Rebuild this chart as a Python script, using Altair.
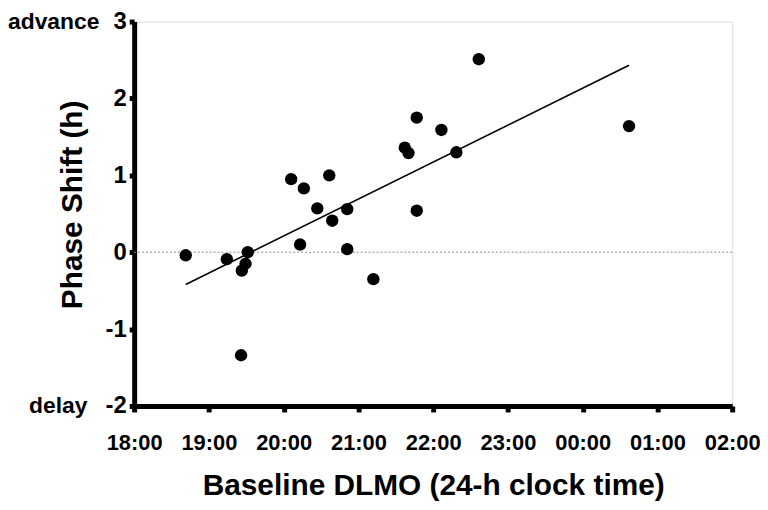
import altair as alt
import pandas as pd

# Baseline DLMO in decimal clock hours (values >24 are past midnight)
dlmo_hours = [18.69, 19.24, 19.44, 19.49, 19.52, 19.43, 20.10, 20.27, 20.22, 20.45,
              20.61, 20.65, 20.85, 20.85, 21.20, 21.78, 21.62, 21.67, 22.11, 22.31,
              22.61, 21.78, 24.62]
phase_shift = [-0.04, -0.09, -0.24, -0.15, 0.00, -1.34, 0.95, 0.83, 0.10, 0.57,
               1.00, 0.41, 0.56, 0.04, -0.35, 1.75, 1.36, 1.29, 1.59, 1.30,
               2.51, 0.54, 1.64]

x_ticks = [18, 19, 20, 21, 22, 23, 24, 25, 26]
y_ticks = [-2, -1, 0, 1, 2, 3]
side_labels = ["advance", "delay"]
side_values = [3, -2]

df = pd.DataFrame({"dlmo": dlmo_hours, "shift": phase_shift})
FONT = "Liberation Sans"

x_scale = alt.Scale(domain=[18, 26], nice=False, zero=False)
y_scale = alt.Scale(domain=[-2, 3], nice=False, zero=False)

x_enc = alt.X(
    "dlmo:Q", scale=x_scale,
    axis=alt.Axis(
        values=x_ticks,
        labelExpr="(datum.value % 24 < 10 ? '0' : '') + (datum.value % 24) + ':00'",
        title="Baseline DLMO (24-h clock time)",
        titleFontSize=30, titleFont=FONT, titleFontWeight="bold", titleColor="black",
        titleY=89, titleBaseline="alphabetic",
        labelFontSize=22, labelFont=FONT, labelFontWeight="bold", labelColor="black",
        labelBaseline="alphabetic", labelPadding=38, labelFlush=False,
        domainColor="black", domainWidth=5, tickColor="black", tickWidth=5, tickSize=6,
        grid=False,
    ),
)
y_enc = alt.Y(
    "shift:Q", scale=y_scale,
    axis=alt.Axis(
        values=y_ticks,
        labelExpr="(datum.value < 0 ? '-' : '') + abs(datum.value)",
        title="Phase Shift (h)",
        titleFontSize=30, titleFont=FONT, titleFontWeight="bold", titleColor="black",
        titleX=-62, titleY=184, titleAngle=-90, titleAlign="center", titleBaseline="middle",
        labelFontSize=24, labelFont=FONT, labelFontWeight="bold", labelColor="black",
        labelPadding=3, labelFlush=False,
        domainColor="black", domainWidth=5, tickColor="black", tickWidth=5, tickSize=5,
        grid=False,
    ),
)

zero = alt.Chart(pd.DataFrame({"z": [0]})).mark_rule(
    color="#888888", strokeWidth=1, strokeDash=[2, 2]
).encode(y=alt.Y("z:Q", scale=y_scale))

points = alt.Chart(df).mark_circle(size=155, color="black", opacity=1).encode(x=x_enc, y=y_enc)

fit = alt.Chart(df).transform_regression("dlmo", "shift").mark_line(
    color="black", strokeWidth=1.6
).encode(x=alt.X("dlmo:Q", scale=x_scale), y=alt.Y("shift:Q", scale=y_scale))

side_df = pd.DataFrame({"label": side_labels, "v": side_values})
adv = alt.Chart(side_df[side_df.label == "advance"]).mark_text(
    align="right", baseline="middle", font=FONT, fontWeight="bold", fontSize=23, color="black"
).encode(x=alt.value(-35), y=alt.Y("v:Q", scale=y_scale), text="label:N")
dly = alt.Chart(side_df[side_df.label == "delay"]).mark_text(
    align="right", baseline="middle", font=FONT, fontWeight="bold", fontSize=23, color="black"
).encode(x=alt.value(-47), y=alt.Y("v:Q", scale=y_scale), text="label:N")

chart = alt.layer(zero, fit, points, adv, dly).properties(
    width=602, height=387,
    autosize=alt.AutoSizeParams(type="none"),
    padding={"left": 127, "top": 12, "right": 28, "bottom": 95},
).configure_view(stroke=None).configure(background="white")

chart.save("out.html", embed_options={"renderer": "svg", "actions": False})
